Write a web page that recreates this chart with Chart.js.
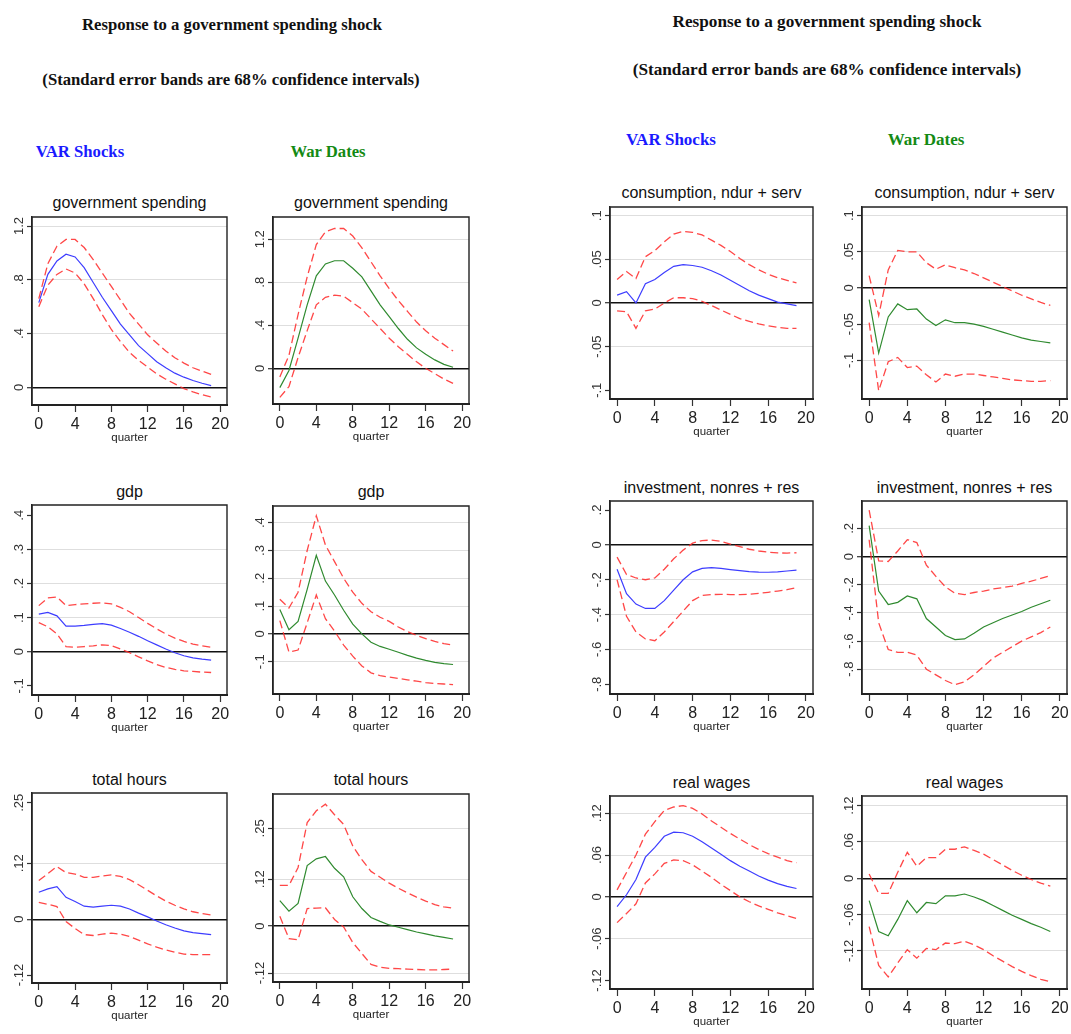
<!DOCTYPE html>
<html><head><meta charset="utf-8">
<script src="https://cdn.jsdelivr.net/npm/chart.js@4.4.0/dist/chart.umd.min.js"></script>
<style>
body{margin:0;background:#fff;width:1071px;height:1034px;position:relative;overflow:hidden;}
.h{position:absolute;font-family:"Liberation Serif","Times New Roman",serif;font-weight:bold;white-space:nowrap;transform:translate(-50%,-50%);color:#111;}
.pt{position:absolute;font-family:"Liberation Sans",Arial,sans-serif;font-size:16px;white-space:nowrap;transform:translate(-50%,-50%);color:#111;}
.c{position:absolute;}
</style></head><body>
<div class="h" style="left:232px;top:25px;font-size:16.7px">Response to a government spending shock</div>
<div class="h" style="left:231px;top:80px;font-size:16.7px">(Standard error bands are 68% confidence intervals)</div>
<div class="h" style="left:80px;top:152px;font-size:16.7px;color:#1a1aff">VAR Shocks</div>
<div class="h" style="left:328px;top:152px;font-size:16.7px;color:#148a14">War Dates</div>
<div class="h" style="left:827px;top:22px;font-size:17.2px">Response to a government spending shock</div>
<div class="h" style="left:827px;top:70px;font-size:17.2px">(Standard error bands are 68% confidence intervals)</div>
<div class="h" style="left:671px;top:140px;font-size:17px;color:#1a1aff">VAR Shocks</div>
<div class="h" style="left:926px;top:140px;font-size:17px;color:#148a14">War Dates</div>
<script>
// ---------- data ----------
const quarters = [0,1,2,3,4,5,6,7,8,9,10,11,12,13,14,15,16,17,18,19];
const xTicks = [0,4,8,12,16,20];

const govTicks = [0,0.4,0.8,1.2];
const govTickLabels = ["0",".4",".8","1.2"];
const gdpTicks = [-0.1,0,0.1,0.2,0.3,0.4];
const gdpTickLabels = ["-.1","0",".1",".2",".3",".4"];
const hoursTicks = [-0.12,0,0.12,0.25];
const hoursTickLabels = ["-.12","0",".12",".25"];
const consTicks = [-0.1,-0.05,0,0.05,0.1];
const consTickLabels = ["-.1","-.05","0",".05",".1"];
const invTicks = [-0.8,-0.6,-0.4,-0.2,0,0.2];
const invTickLabels = ["-.8","-.6","-.4","-.2","0",".2"];
const wageTicks = [-0.12,-0.06,0,0.06,0.12];
const wageTickLabels = ["-.12","-.06","0",".06",".12"];

const govVarIrf   = [0.63,0.84,0.94,0.99,0.97,0.89,0.78,0.67,0.57,0.47,0.39,0.31,0.25,0.19,0.145,0.105,0.075,0.05,0.03,0.012];
const govVarUpper = [0.66,0.92,1.05,1.10,1.10,1.04,0.95,0.85,0.75,0.65,0.55,0.47,0.39,0.33,0.27,0.22,0.18,0.145,0.12,0.095];
const govVarLower = [0.60,0.76,0.84,0.88,0.85,0.77,0.66,0.54,0.43,0.34,0.26,0.20,0.15,0.10,0.06,0.025,-0.01,-0.035,-0.055,-0.072];

const govWarIrf   = [-0.18,-0.02,0.28,0.59,0.86,0.97,1.0,1.0,0.93,0.85,0.72,0.59,0.48,0.37,0.27,0.19,0.13,0.078,0.037,0.01];
const govWarUpper = [-0.08,0.12,0.5,0.85,1.15,1.27,1.3,1.3,1.23,1.12,0.99,0.86,0.74,0.63,0.53,0.43,0.35,0.28,0.22,0.16];
const govWarLower = [-0.27,-0.17,0.1,0.35,0.59,0.66,0.68,0.67,0.61,0.55,0.46,0.37,0.28,0.2,0.13,0.06,0.0,-0.05,-0.1,-0.14];

const gdpVarIrf   = [0.11,0.115,0.105,0.075,0.075,0.077,0.08,0.082,0.078,0.068,0.057,0.045,0.032,0.02,0.008,-0.003,-0.012,-0.018,-0.022,-0.025];
const gdpVarUpper = [0.135,0.158,0.16,0.135,0.138,0.14,0.142,0.143,0.14,0.13,0.117,0.1,0.083,0.067,0.052,0.04,0.03,0.022,0.017,0.013];
const gdpVarLower = [0.085,0.073,0.052,0.015,0.013,0.015,0.017,0.02,0.018,0.008,-0.003,-0.015,-0.027,-0.038,-0.046,-0.052,-0.056,-0.058,-0.06,-0.061];

const gdpWarIrf   = [0.088,0.015,0.045,0.16,0.283,0.19,0.14,0.085,0.035,0.0,-0.03,-0.045,-0.055,-0.066,-0.077,-0.087,-0.095,-0.102,-0.107,-0.11];
const gdpWarUpper = [0.125,0.093,0.15,0.3,0.425,0.32,0.26,0.2,0.15,0.11,0.08,0.06,0.045,0.025,0.008,-0.005,-0.017,-0.027,-0.035,-0.04];
const gdpWarLower = [0.048,-0.065,-0.058,0.04,0.14,0.055,0.01,-0.04,-0.08,-0.115,-0.14,-0.15,-0.155,-0.16,-0.165,-0.17,-0.175,-0.178,-0.18,-0.182];

const hoursVarIrf   = [0.058,0.065,0.07,0.047,0.038,0.028,0.026,0.028,0.03,0.028,0.022,0.013,0.005,-0.004,-0.012,-0.019,-0.025,-0.029,-0.031,-0.033];
const hoursVarUpper = [0.083,0.098,0.113,0.1,0.097,0.09,0.09,0.093,0.095,0.092,0.085,0.074,0.062,0.05,0.039,0.03,0.022,0.016,0.012,0.009];
const hoursVarLower = [0.036,0.032,0.027,-0.005,-0.02,-0.033,-0.035,-0.032,-0.03,-0.032,-0.037,-0.045,-0.053,-0.06,-0.066,-0.071,-0.075,-0.076,-0.076,-0.076];

const hoursWarIrf   = [0.065,0.038,0.058,0.155,0.172,0.178,0.148,0.126,0.075,0.045,0.022,0.012,0.003,-0.003,-0.009,-0.015,-0.02,-0.025,-0.029,-0.033];
const hoursWarUpper = [0.104,0.104,0.15,0.265,0.295,0.312,0.285,0.26,0.205,0.17,0.14,0.125,0.11,0.097,0.085,0.074,0.064,0.055,0.049,0.046];
const hoursWarLower = [0.025,-0.032,-0.035,0.045,0.046,0.047,0.017,-0.002,-0.042,-0.07,-0.098,-0.105,-0.108,-0.109,-0.11,-0.111,-0.112,-0.112,-0.111,-0.11];

const consVarIrf   = [0.009,0.013,0.0,0.022,0.027,0.035,0.042,0.044,0.043,0.041,0.037,0.032,0.026,0.02,0.014,0.009,0.005,0.001,-0.001,-0.003];
const consVarUpper = [0.027,0.036,0.028,0.053,0.06,0.07,0.079,0.082,0.081,0.078,0.072,0.066,0.059,0.051,0.044,0.038,0.033,0.029,0.026,0.023];
const consVarLower = [-0.009,-0.01,-0.029,-0.009,-0.007,0.0,0.006,0.006,0.005,0.002,-0.003,-0.008,-0.013,-0.018,-0.021,-0.024,-0.026,-0.028,-0.029,-0.029];

const consWarIrf   = [-0.016,-0.09,-0.04,-0.022,-0.03,-0.029,-0.043,-0.052,-0.044,-0.048,-0.048,-0.05,-0.053,-0.057,-0.061,-0.065,-0.069,-0.072,-0.074,-0.076];
const consWarUpper = [0.017,-0.038,0.025,0.052,0.05,0.05,0.035,0.026,0.032,0.028,0.025,0.02,0.014,0.008,0.002,-0.004,-0.01,-0.015,-0.02,-0.024];
const consWarLower = [-0.048,-0.142,-0.102,-0.096,-0.11,-0.108,-0.12,-0.13,-0.119,-0.122,-0.119,-0.119,-0.121,-0.123,-0.125,-0.127,-0.128,-0.129,-0.129,-0.128];

const invVarIrf   = [-0.14,-0.28,-0.34,-0.365,-0.365,-0.32,-0.26,-0.2,-0.155,-0.135,-0.13,-0.135,-0.142,-0.148,-0.153,-0.156,-0.157,-0.155,-0.15,-0.145];
const invVarUpper = [-0.07,-0.17,-0.19,-0.2,-0.19,-0.14,-0.08,-0.03,0.01,0.025,0.028,0.02,0.005,-0.01,-0.025,-0.035,-0.042,-0.046,-0.047,-0.045];
const invVarLower = [-0.2,-0.41,-0.5,-0.54,-0.55,-0.5,-0.44,-0.38,-0.32,-0.29,-0.285,-0.284,-0.285,-0.285,-0.283,-0.278,-0.272,-0.265,-0.257,-0.245];

const invWarIrf   = [0.22,-0.245,-0.34,-0.325,-0.28,-0.3,-0.44,-0.5,-0.56,-0.59,-0.585,-0.545,-0.5,-0.47,-0.44,-0.415,-0.39,-0.36,-0.335,-0.31];
const invWarUpper = [0.33,-0.03,-0.035,0.04,0.12,0.1,-0.06,-0.14,-0.215,-0.26,-0.27,-0.255,-0.245,-0.23,-0.22,-0.21,-0.19,-0.175,-0.155,-0.135];
const invWarLower = [0.12,-0.47,-0.66,-0.68,-0.68,-0.7,-0.8,-0.84,-0.88,-0.91,-0.89,-0.84,-0.78,-0.72,-0.68,-0.64,-0.6,-0.57,-0.54,-0.5];

const wageVarIrf   = [-0.014,0.003,0.025,0.057,0.071,0.087,0.093,0.092,0.087,0.079,0.07,0.061,0.052,0.044,0.037,0.03,0.024,0.019,0.015,0.012];
const wageVarUpper = [0.01,0.035,0.06,0.09,0.108,0.124,0.129,0.131,0.127,0.119,0.109,0.1,0.091,0.083,0.075,0.068,0.062,0.057,0.052,0.049];
const wageVarLower = [-0.037,-0.024,-0.01,0.02,0.033,0.048,0.053,0.052,0.046,0.037,0.028,0.018,0.009,0.0,-0.007,-0.013,-0.018,-0.023,-0.027,-0.031];

const wageWarIrf   = [-0.037,-0.088,-0.095,-0.068,-0.037,-0.057,-0.04,-0.042,-0.029,-0.029,-0.026,-0.031,-0.037,-0.045,-0.053,-0.061,-0.068,-0.075,-0.081,-0.088];
const wageWarUpper = [0.007,-0.025,-0.025,0.01,0.043,0.02,0.034,0.034,0.048,0.048,0.052,0.046,0.04,0.031,0.022,0.013,0.005,-0.002,-0.008,-0.013];
const wageWarLower = [-0.08,-0.144,-0.163,-0.14,-0.118,-0.132,-0.116,-0.118,-0.107,-0.108,-0.104,-0.11,-0.118,-0.128,-0.137,-0.146,-0.154,-0.161,-0.167,-0.171];

// ---------- layout / style ----------
const BLUE = '#3d3dff', GREEN = '#2f8a2f', RED = 'rgba(255,45,45,0.88)';
const panels = [
  {title:'government spending', L:32,  R:227,  T:217, B:405, ty:203, ymin:-0.132, ymax:1.267, ticks:govTicks, labels:govTickLabels, skip:[], irf:govVarIrf, up:govVarUpper, lo:govVarLower, color:BLUE},
  {title:'government spending', L:273, R:469,  T:217, B:404, ty:203, ymin:-0.332, ymax:1.407, ticks:govTicks, labels:govTickLabels, skip:[], irf:govWarIrf, up:govWarUpper, lo:govWarLower, color:GREEN},
  {title:'gdp',                 L:32,  R:227,  T:505, B:695, ty:492, ymin:-0.127, ymax:0.43,  ticks:gdpTicks, labels:gdpTickLabels, skip:[0.4,-0.1], irf:gdpVarIrf, up:gdpVarUpper, lo:gdpVarLower, color:BLUE},
  {title:'gdp',                 L:273, R:469,  T:506, B:694, ty:492, ymin:-0.216, ymax:0.46,  ticks:gdpTicks, labels:gdpTickLabels, skip:[], irf:gdpWarIrf, up:gdpWarUpper, lo:gdpWarLower, color:GREEN},
  {title:'total hours',         L:32,  R:227,  T:793, B:983, ty:780, ymin:-0.137, ymax:0.271, ticks:hoursTicks, labels:hoursTickLabels, skip:[0.25,-0.12], irf:hoursVarIrf, up:hoursVarUpper, lo:hoursVarLower, color:BLUE},
  {title:'total hours',         L:273, R:469,  T:794, B:982, ty:780, ymin:-0.143, ymax:0.338, ticks:hoursTicks, labels:hoursTickLabels, skip:[], irf:hoursWarIrf, up:hoursWarUpper, lo:hoursWarLower, color:GREEN},
  {title:'consumption, ndur + serv', L:610, R:813,  T:207, B:399, ty:193, ymin:-0.11, ymax:0.11, ticks:consTicks, labels:consTickLabels, skip:[-0.1], irf:consVarIrf, up:consVarUpper, lo:consVarLower, color:BLUE},
  {title:'consumption, ndur + serv', L:862, R:1067, T:207, B:399, ty:193, ymin:-0.1535, ymax:0.112, ticks:consTicks, labels:consTickLabels, skip:[], irf:consWarIrf, up:consWarUpper, lo:consWarLower, color:GREEN},
  {title:'investment, nonres + res', L:610, R:813,  T:501, B:694, ty:488, ymin:-0.856, ymax:0.252, ticks:invTicks, labels:invTickLabels, skip:[0.2,-0.8], irf:invVarIrf, up:invVarUpper, lo:invVarLower, color:BLUE},
  {title:'investment, nonres + res', L:862, R:1067, T:501, B:694, ty:488, ymin:-0.976, ymax:0.395, ticks:invTicks, labels:invTickLabels, skip:[], irf:invWarIrf, up:invWarUpper, lo:invWarLower, color:GREEN},
  {title:'real wages',          L:610, R:813,  T:796, B:989, ty:783, ymin:-0.1323, ymax:0.1448, ticks:wageTicks, labels:wageTickLabels, skip:[-0.12], irf:wageVarIrf, up:wageVarUpper, lo:wageVarLower, color:BLUE},
  {title:'real wages',          L:862, R:1067, T:796, B:989, ty:783, ymin:-0.183, ymax:0.136, ticks:wageTicks, labels:wageTickLabels, skip:[], irf:wageWarIrf, up:wageWarUpper, lo:wageWarLower, color:GREEN}
];

const SANS = '"Liberation Sans", Arial, sans-serif';
const near = (a,b)=>Math.abs(a-b)<1e-9;
const pts = arr => quarters.map((q,i)=>({x:q, y:arr[i]}));

const framePlugin = {
  id:'frame',
  afterDraw(chart){
    const a = chart.chartArea, ctx = chart.ctx;
    ctx.save();
    ctx.strokeStyle = '#222'; ctx.lineWidth = 1.4;
    ctx.beginPath();
    ctx.moveTo(a.left, a.bottom); ctx.lineTo(a.left, a.top); ctx.lineTo(a.right, a.top); ctx.lineTo(a.right, a.bottom);
    ctx.stroke();
    ctx.lineWidth = 2.2;
    ctx.beginPath(); ctx.moveTo(a.left-0.7, a.bottom); ctx.lineTo(a.right+0.7, a.bottom); ctx.stroke();
    ctx.restore();
  }
};

const yLabelPlugin = {
  id:'ylabels',
  afterDraw(chart){
    const p = chart.options.plugins.ylabels;
    const ys = chart.scales.y, ctx = chart.ctx, a = chart.chartArea;
    ctx.save();
    ctx.font = '13px ' + SANS;
    ctx.fillStyle = '#333';
    ctx.textAlign = 'center'; ctx.textBaseline = 'middle';
    p.ticks.forEach((v,i)=>{
      const y = ys.getPixelForValue(v);
      ctx.save();
      ctx.translate(a.left - 12.5, y);
      ctx.rotate(-Math.PI/2);
      ctx.fillText(p.labels[i], 0, 0);
      ctx.restore();
    });
    ctx.restore();
  }
};

const padL = 32, padB = 42, padT = 8, padR = 10;

panels.forEach(p=>{
  const t = document.createElement('div');
  t.className = 'pt'; t.textContent = p.title;
  t.style.left = ((p.L+p.R)/2)+'px'; t.style.top = p.ty+'px';
  document.body.appendChild(t);

  const div = document.createElement('div');
  div.className = 'c';
  div.style.left = (p.L - padL)+'px';
  div.style.top = (p.T - padT)+'px';
  div.style.width = (p.R - p.L + padL + padR)+'px';
  div.style.height = (p.B - p.T + padT + padB)+'px';
  const cv = document.createElement('canvas');
  div.appendChild(cv);
  document.body.appendChild(div);

  const dashed = arr => ({data:pts(arr), borderColor:RED, borderWidth:1.3, borderDash:[8,4], pointRadius:0, fill:false, tension:0});
  new Chart(cv, {
    type:'line',
    data:{datasets:[
      dashed(p.up), dashed(p.lo),
      {data:pts(p.irf), borderColor:p.color, borderWidth:1.2, pointRadius:0, fill:false, tension:0}
    ]},
    options:{
      responsive:true, maintainAspectRatio:false, animation:false,
      events:[],
      layout:{padding:{left:0, right:padR, top:padT, bottom:0}},
      plugins:{legend:{display:false}, tooltip:{enabled:false}, ylabels:{ticks:p.ticks, labels:p.labels}},
      scales:{
        x:{type:'linear', min:-0.75, max:20.75,
           afterBuildTicks: s=>{ s.ticks = xTicks.map(v=>({value:v})); },
           afterFit: s=>{ s.height = padB; },
           ticks:{autoSkip:false, maxRotation:0, padding:3, color:'#222', font:{family:SANS, size:16}, callback:v=>String(v)},
           grid:{drawOnChartArea:false, drawTicks:true, tickLength:7, tickColor:'#333', tickWidth:1.2},
           border:{display:true, color:'#222', width:2},
           title:{display:true, text:'quarter', color:'#222', font:{family:SANS, size:11.5}, padding:{top:0, bottom:2}}
        },
        y:{type:'linear', min:p.ymin, max:p.ymax,
           afterBuildTicks: s=>{ s.ticks = p.ticks.map(v=>({value:v})); },
           afterFit: s=>{ s.width = padL; },
           ticks:{display:false},
           grid:{drawTicks:true, tickLength:5, tickColor:'#333', tickWidth:1.2,
                 color: c=>{ const v = c.tick ? c.tick.value : 1; if (near(v,0)) return '#111'; if (p.skip.some(s=>near(s,v))) return 'rgba(0,0,0,0)'; return '#dedede'; },
                 lineWidth: c=>{ const v = c.tick ? c.tick.value : 1; return near(v,0) ? 1.4 : 1; }},
           border:{display:true, color:'#222', width:1.4}
        }
      }
    },
    plugins:[framePlugin, yLabelPlugin]
  });
});
</script>
</body></html>
